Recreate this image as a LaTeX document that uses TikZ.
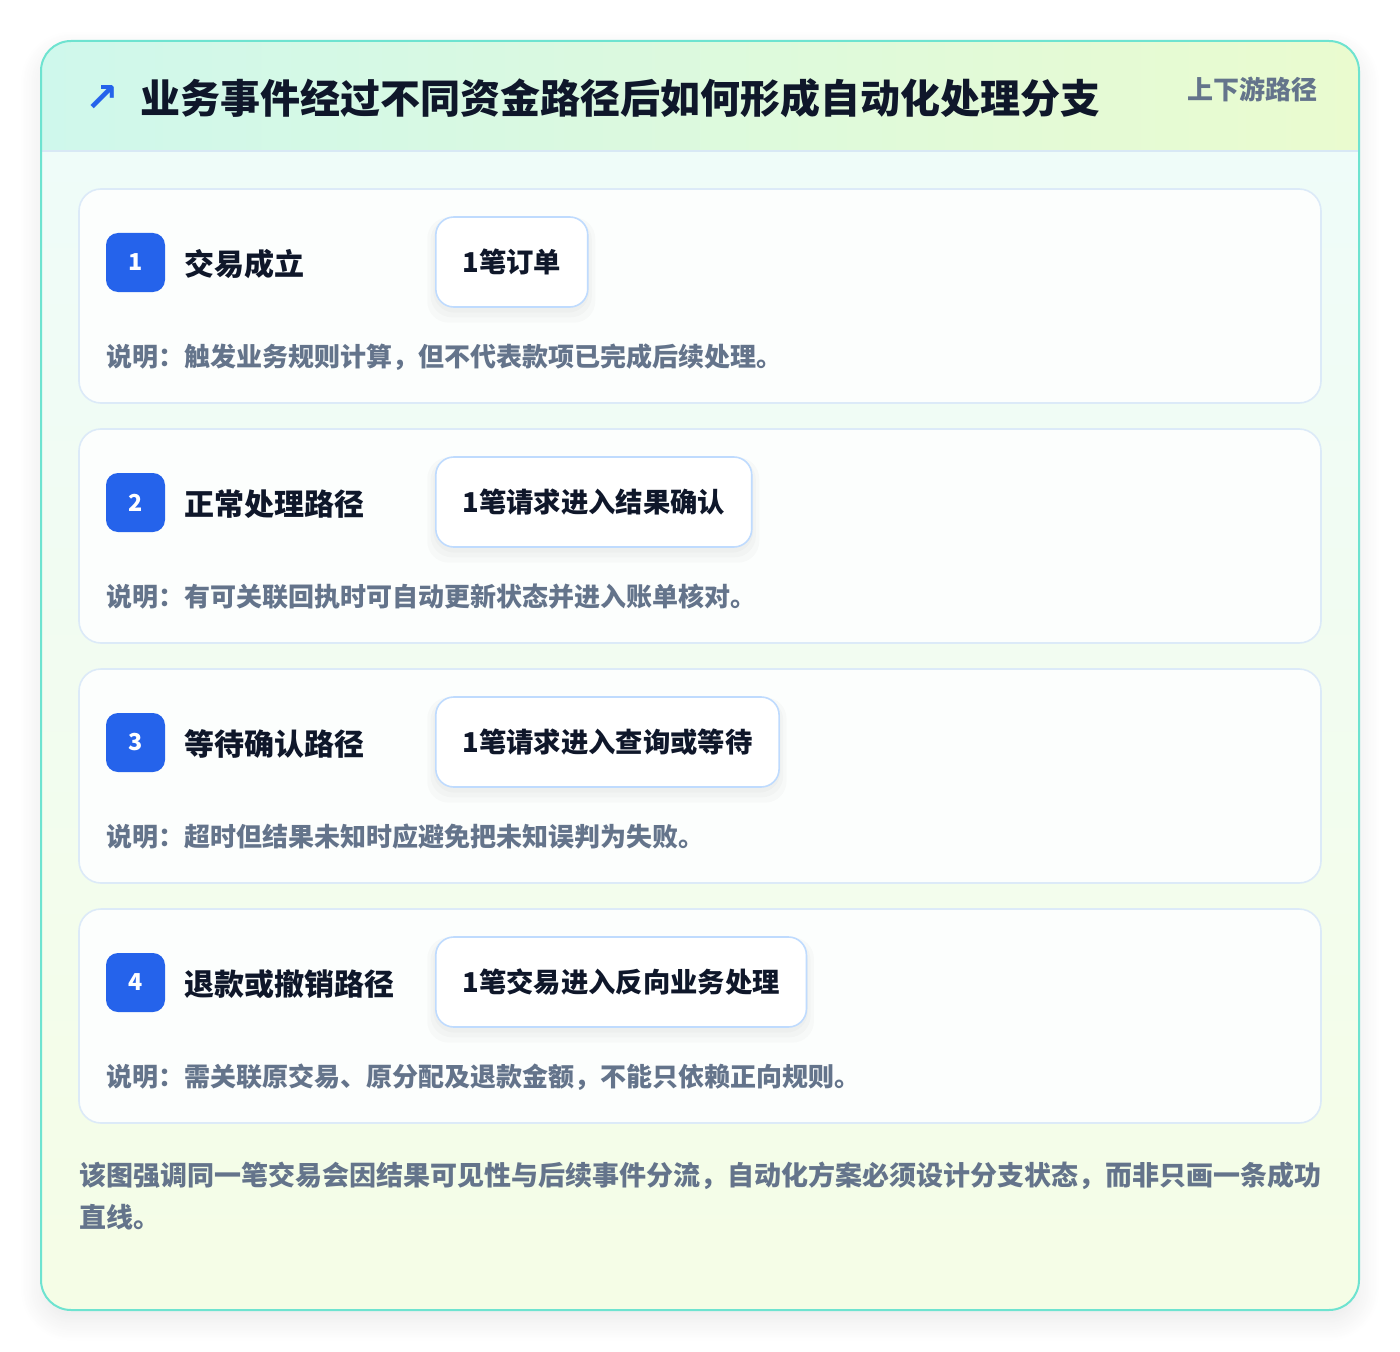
\documentclass[tikz,border=0pt]{standalone}
\usepackage{fontspec}
\setmainfont{Noto Sans CJK SC}
\newfontfamily\symfont{DejaVu Sans}
\usetikzlibrary{shadows.blur}

\definecolor{cardline}{HTML}{6EE3D0}
\definecolor{headleft}{HTML}{CFF8EC}
\definecolor{headright}{HTML}{EAFBCF}
\definecolor{bodytop}{HTML}{EFFCF9}
\definecolor{bodybottom}{HTML}{F5FDE6}
\definecolor{headrule}{HTML}{D8E8F5}
\definecolor{stepline}{HTML}{DCEAF8}
\definecolor{stepfill}{HTML}{FCFEFD}
\definecolor{boxline}{HTML}{BFDBFE}
\definecolor{badgeblue}{HTML}{2563EB}
\definecolor{ink}{HTML}{0F172A}
\definecolor{muted}{HTML}{64748B}

\begin{document}
\begin{tikzpicture}[x=0.75pt,y=-0.75pt,
  stepcard/.style={draw=stepline, line width=1.2pt, fill=stepfill, rounded corners=16.5pt},
  badge/.style={fill=badgeblue, rounded corners=9pt, minimum size=44.25pt, inner sep=0pt,
    text=white, font=\bfseries\fontsize{17.5}{17.5}\selectfont},
  steplabel/.style={anchor=west, inner sep=0pt, text=ink, font=\bfseries\fontsize{22.5}{26}\selectfont},
  valuebox/.style={anchor=west, draw=boxline, line width=1.2pt, fill=white, rounded corners=13.5pt,
    minimum height=67.5pt, inner xsep=20pt, text=ink, font=\bfseries\fontsize{20.5}{24}\selectfont},
  boxshade/.style={anchor=west, draw=none, fill=black, fill opacity=0.018,
    rounded corners=16pt, font=\bfseries\fontsize{20.5}{24}\selectfont},
  steptext/.style={anchor=west, inner sep=0pt, text=muted, font=\bfseries\fontsize{19.5}{24}\selectfont}]
\useasboundingbox (0,0) rectangle (1400,1352);
%==================== Card ====================
\path[fill=white, rounded corners=22.5pt,
  blur shadow={shadow xshift=0pt, shadow yshift=-8pt, shadow blur radius=16pt,
    shadow blur steps=20, shadow opacity=9}]
  (41,41) rectangle (1359,1310);
\begin{scope}
\clip[rounded corners=22.5pt] (41,41) rectangle (1359,1310);
\shade[left color=headleft, right color=headright] (41,41) rectangle (1359,151);
\shade[top color=bodytop, bottom color=bodybottom] (41,151) rectangle (1359,1310);
\end{scope}
\draw[headrule, line width=1.2pt] (41,151) -- (1359,151);
\draw[cardline, line width=1.5pt, rounded corners=22.5pt] (41,41) rectangle (1359,1310);
%==================== Header ====================
\node[text=badgeblue, font=\symfont\bfseries\fontsize{30}{30}\selectfont] (icon) at (102,99) {↗};
\node[anchor=west, inner sep=0pt, text=ink, font=\bfseries\fontsize{30}{36}\selectfont] (title) at (140,98)
  {业务事件经过不同资金路径后如何形成自动化处理分支};
\node[anchor=east, inner sep=0pt, text=muted, font=\bfseries\fontsize{19.5}{24}\selectfont] (tag) at (1318,89)
  {上下游路径};
%==================== Steps ====================
\foreach \n/\lbl/\val/\desc in {
  1/交易成立/1笔订单/说明：触发业务规则计算，但不代表款项已完成后续处理。,
  2/正常处理路径/1笔请求进入结果确认/说明：有可关联回执时可自动更新状态并进入账单核对。,
  3/等待确认路径/1笔请求进入查询或等待/说明：超时但结果未知时应避免把未知误判为失败。,
  4/退款或撤销路径/1笔交易进入反向业务处理/说明：需关联原交易、原分配及退款金额，不能只依赖正向规则。}
{
  \pgfmathsetmacro{\off}{(\n-1)*240}
  \draw[stepcard] (79,189+\off) rectangle (1321,403+\off);
  \node[badge] (badge\n) at (135.5,262.5+\off) {\n};
  \node[steplabel] (label\n) at (184,264+\off) {\lbl};
  % soft shadow under the value box
  \node[boxshade, minimum height=70pt, inner xsep=21.5pt] at (433,266+\off) {\phantom{\val}};
  \node[boxshade, minimum height=74pt, inner xsep=23.5pt] at (430.3,268+\off) {\phantom{\val}};
  \node[boxshade, minimum height=79pt, inner xsep=26pt] at (427,270+\off) {\phantom{\val}};
  \node[valuebox] (value\n) at (435,262+\off) {\val};
  \node[steptext] (note\n) at (106,357+\off) {\desc};
}
%==================== Footer ====================
\node[anchor=north west, inner sep=0pt, align=left, text=muted,
  font=\bfseries\fontsize{20.25}{31.5}\selectfont] (summary) at (79,1162)
  {该图强调同一笔交易会因结果可见性与后续事件分流，自动化方案必须设计分支状态，而非只画一条成功\\直线。};
\end{tikzpicture}
\end{document}
